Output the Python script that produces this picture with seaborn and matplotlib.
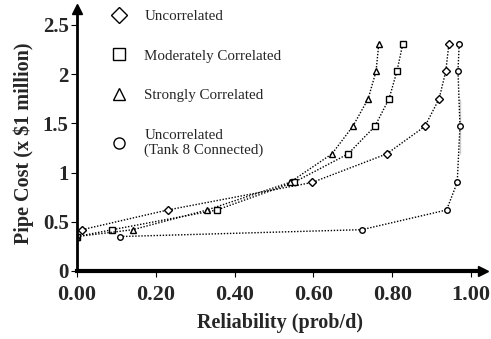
import matplotlib
matplotlib.use("Agg")
import matplotlib.pyplot as plt
import seaborn as sns
import pandas as pd

# Data
unc_x = [0.013, 0.23, 0.597, 0.786, 0.883, 0.919, 0.936, 0.944]
unc_y = [0.42, 0.62, 0.90, 1.19, 1.47, 1.75, 2.03, 2.31]
mod_x = [0.0, 0.09, 0.355, 0.55, 0.688, 0.756, 0.792, 0.812, 0.827]
mod_y = [0.35, 0.42, 0.62, 0.90, 1.19, 1.47, 1.75, 2.03, 2.31]
str_x = [0.0, 0.142, 0.33, 0.54, 0.647, 0.70, 0.739, 0.759, 0.766]
str_y = [0.35, 0.42, 0.62, 0.90, 1.19, 1.47, 1.75, 2.03, 2.31]
t8_x = [0.109, 0.723, 0.938, 0.965, 0.972, 0.972, 0.972, 0.967, 0.97]
t8_y = [0.35, 0.42, 0.62, 0.90, 1.19, 1.47, 1.75, 2.03, 2.31]

labels = ["Uncorrelated", "Moderately Correlated", "Strongly Correlated",
          "Uncorrelated\n(Tank 8 Connected)"]
x_ticks = [0.0, 0.2, 0.4, 0.6, 0.8, 1.0]
x_ticklabels = ["0.00", "0.20", "0.40", "0.60", "0.80", "1.00"]
y_ticks = [0, 0.5, 1, 1.5, 2, 2.5]
y_ticklabels = ["0", "0.5", "1", "1.5", "2", "2.5"]

sns.set_style("white")
plt.rcParams['font.family'] = ['Liberation Serif', 'DejaVu Serif']

fig = plt.figure(figsize=(4.91, 3.39), dpi=100)
W, H = 491, 339
x0, x1 = 77, 471
y0 = 271
ypu = 98.4
ax = fig.add_axes([x0 / W, 1 - y0 / H, (x1 - x0) * 1.03 / W, 2.6 * ypu / H])

series = [(unc_x, unc_y, "D", labels[0]),
          (mod_x, mod_y, "s", labels[1]),
          (str_x, str_y, "^", labels[2]),
          (t8_x, t8_y, "o", labels[3])]
for xs, ys, m, lab in series:
    df = pd.DataFrame({"x": xs, "y": ys})
    sns.lineplot(data=df, x="x", y="y", ax=ax, sort=False, color="black",
                 linestyle=(0, (1, 1.2)), linewidth=1.0, marker=m,
                 markersize=4, markerfacecolor="white", markeredgecolor="black",
                 markeredgewidth=1.0, label=lab)

ax.set_xlim(0, 1.03)
ax.set_ylim(0, 2.6)
ax.set_xticks(x_ticks)
ax.set_xticklabels(x_ticklabels, fontsize=16, fontweight="bold")
ax.set_yticks(y_ticks)
ax.set_yticklabels(y_ticklabels, fontsize=15, fontweight="bold")
ax.tick_params(axis="both", direction="out", length=4, width=0.8, color="black",
               bottom=True, left=True)
ax.tick_params(axis="x", pad=6)
ax.tick_params(axis="y", pad=2)
ax.set_xlabel("Reliability (prob/d)", fontsize=14.5, fontweight="bold", labelpad=6)
ax.set_ylabel("Pipe Cost (x \\$1 million)", fontsize=14.5, fontweight="bold", labelpad=6)

for s in ["top", "right"]:
    ax.spines[s].set_visible(False)
ax.spines["bottom"].set_linewidth(3)
ax.spines["left"].set_linewidth(2)
ax.spines["bottom"].set_color("black")
ax.spines["left"].set_color("black")
ax.plot(1.03, 0, ">", color="black", markersize=7, clip_on=False)
ax.plot(0, 2.66, "^", color="black", markersize=7, clip_on=False)

leg = ax.legend(loc="upper left", bbox_to_anchor=(0.07, 1.075), frameon=False,
                fontsize=10.8, labelspacing=1.75, handlelength=0, handletextpad=1.7,
                markerscale=2.0)
for h in leg.legend_handles:
    h.set_linestyle("None")

fig.savefig("out.png", dpi=100)
